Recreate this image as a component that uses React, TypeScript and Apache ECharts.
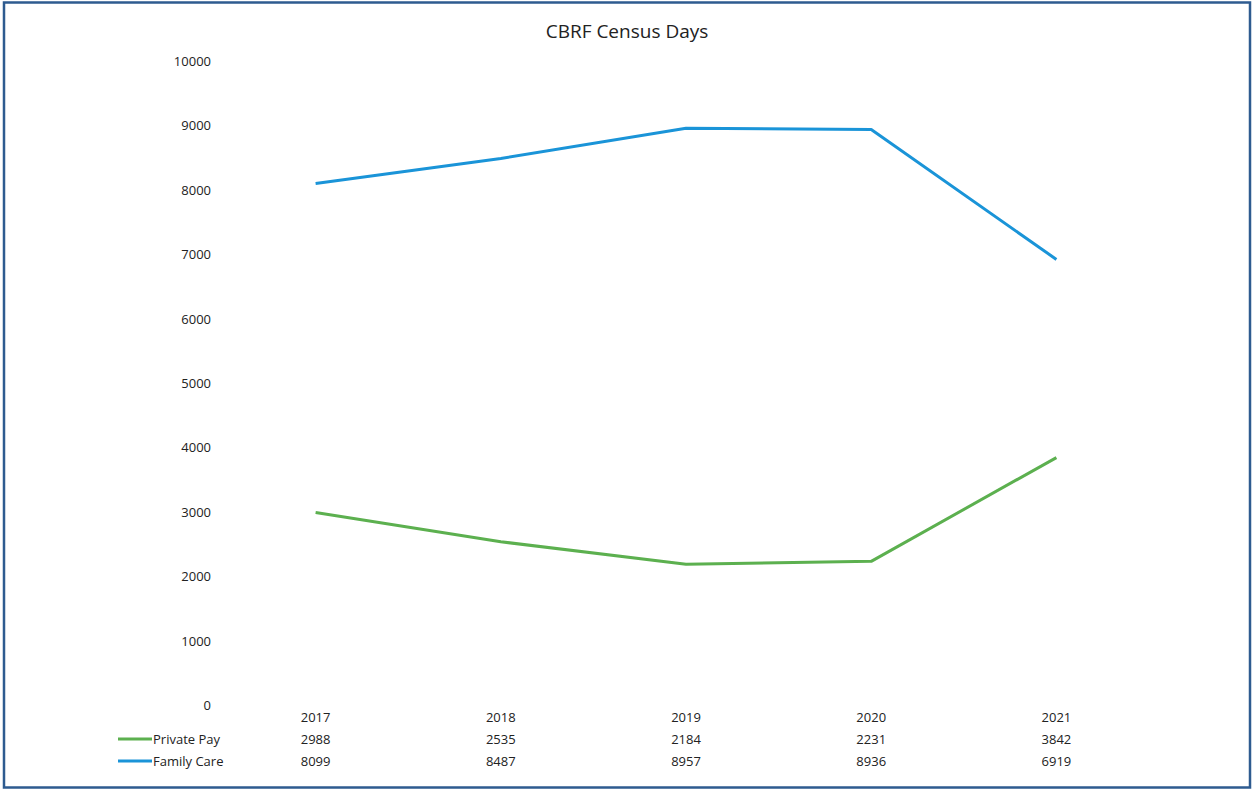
import React, { useEffect, useRef } from "react";
import * as echarts from "echarts";

const years = ["2017", "2018", "2019", "2020", "2021"];
const privatePay = [2988, 2535, 2184, 2231, 3842];
const familyCare = [8099, 8487, 8957, 8936, 6919];
const yTicks = { min: 0, max: 10000, interval: 1000 };
const seriesNames = ["Private Pay", "Family Care"];

const FONT = "'Open Sans', 'Noto Sans', sans-serif";

export default function App() {
  const ref = useRef<HTMLDivElement>(null);
  useEffect(() => {
    if (!ref.current) return;
    const chart = echarts.init(ref.current, null, { renderer: "svg" });
    const rowAxis = (offset: number, values: number[] | null) => ({
      type: "category",
      data: years,
      position: "bottom",
      offset,
      gridIndex: 0,
      axisLine: { show: false },
      axisTick: { show: false },
      splitLine: { show: false },
      axisLabel: {
        margin: 5,
        color: "#222",
        fontSize: 13,
        fontFamily: FONT,
        formatter: (v: string, i: number) => (values ? String(values[i]) : v),
      },
    });
    chart.setOption({
      animation: false,
      backgroundColor: "#ffffff",
      title: {
        text: "CBRF Census Days",
        left: "center",
        top: 16,
        textStyle: { fontSize: 19, fontWeight: "normal", color: "#222", fontFamily: FONT },
      },
      grid: { left: 223, right: 105, top: 61, bottom: 85 },
      legend: {
        orient: "vertical",
        left: 118,
        top: 730,
        padding: 0,
        icon: "rect",
        itemWidth: 34,
        itemHeight: 3,
        itemGap: 4,
        data: seriesNames,
        textStyle: {
          color: "#222",
          fontSize: 13,
          fontFamily: FONT,
          lineHeight: 18,
          padding: [0, 0, 0, -4],
        },
      },
      xAxis: [rowAxis(0, null), rowAxis(22, privatePay), rowAxis(44, familyCare)],
      yAxis: {
        type: "value",
        min: yTicks.min,
        max: yTicks.max,
        interval: yTicks.interval,
        axisLine: { show: false },
        axisTick: { show: false },
        splitLine: { show: false },
        axisLabel: {
          color: "#222",
          fontSize: 13,
          fontFamily: FONT,
          margin: 12,
          formatter: (v: number) => String(v),
        },
      },
      series: [
        {
          name: seriesNames[0],
          type: "line",
          data: privatePay,
          symbol: "none",
          lineStyle: { color: "#5cb04f", width: 3 },
          itemStyle: { color: "#5cb04f" },
        },
        {
          name: seriesNames[1],
          type: "line",
          data: familyCare,
          symbol: "none",
          lineStyle: { color: "#1a94d8", width: 3 },
          itemStyle: { color: "#1a94d8" },
        },
      ],
      graphic: [
        {
          type: "rect",
          shape: { x: 4, y: 2.5, width: 1246, height: 785 },
          style: { fill: "none", stroke: "#2e5b90", lineWidth: 2.5 },
          silent: true,
        },
      ],
    });
    return () => chart.dispose();
  }, []);
  return (
    <div
      ref={ref}
      style={{ position: "absolute", left: 0, top: 0, width: 1254, height: 790 }}
    />
  );
}
